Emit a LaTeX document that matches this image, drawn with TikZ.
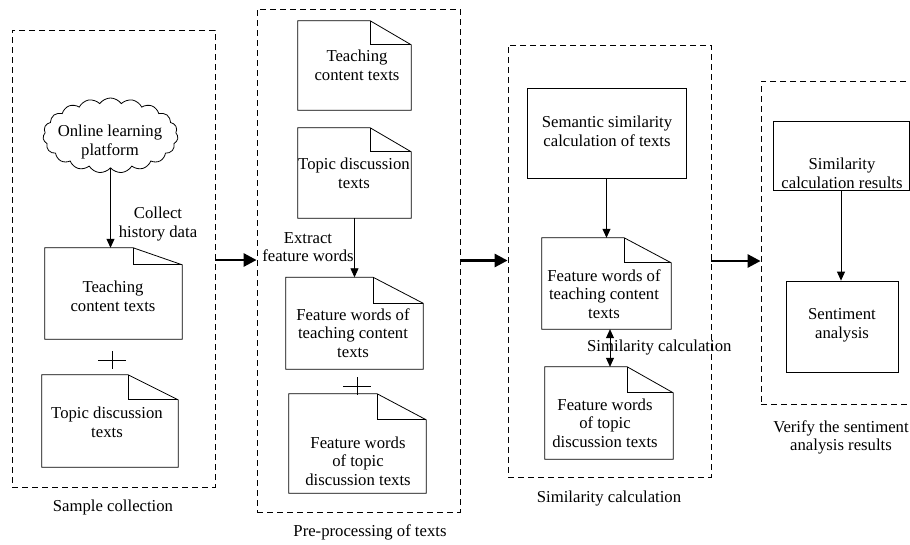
\documentclass[tikz,border=0pt]{standalone}
\usepackage{fontspec}
\setmainfont{Liberation Serif}
\usetikzlibrary{shapes.symbols,arrows.meta,calc}
\begin{document}
\begin{tikzpicture}[x=1pt,y=-1pt,
  txt/.style={font=\fontsize{16.7}{18.6}\selectfont, align=center, inner sep=0pt},
  stage/.style={draw, dash pattern=on 6pt off 4pt, line width=0.8pt, inner sep=0pt},
  docshape/.style 2 args={inner sep=0pt, minimum width=#1pt, minimum height=#2pt},
  boxnode/.style 2 args={draw, line width=0.8pt, inner sep=0pt, minimum width=#1pt, minimum height=#2pt},
  flow/.style={line width=0.8pt, -{Triangle[length=9pt,width=8pt]}},
  both/.style={line width=0.8pt, {Triangle[length=9pt,width=8pt]}-{Triangle[length=9pt,width=8pt]}},
  stagearrow/.style={line width=2.8pt, -{Triangle[length=13pt,width=13pt]}},
  docline/.style={line width=0.8pt, line join=miter}
]
\useasboundingbox (0,0) rectangle (910,544);
\clip (0,0) rectangle (910,544);
\fill[white] (0,0) rectangle (910,544);

% ---- stage frames ----
\node[stage, minimum width=203pt, minimum height=457pt] (b1) at (113.5,258.5) {};
\node[stage, minimum width=203pt, minimum height=503pt] (b2) at (358.5,260.5) {};
\node[stage, minimum width=203pt, minimum height=432pt] (b3) at (609.5,261) {};
\node[stage, minimum width=151pt, minimum height=323pt] (b4) at (836.5,242.5) {};

\node[txt] (l1) at (113,507) {Sample collection};
\node[txt] (l2) at (370,532) {Pre-processing of texts};
\node[txt] (l3) at (609,498) {Similarity calculation};
\node[txt] (l4) at (841,437.5) {Verify the sentiment\\analysis results};

% ---- stage 1 ----
\node[cloud, draw, line width=0.8pt, cloud puffs=19, cloud puff arc=110,
      cloud ignores aspect, minimum width=135pt, minimum height=75pt, inner sep=0pt]
      (cl) at (110.5,135.5) {};
\node[txt] (clt) at (110,142) {Online learning\\platform};

\node[docshape={137}{91}] (d1) at (113.5,293.5) {};
\node[txt] (d1t) at (113,296) {Teaching\\content texts};
\node[docshape={136}{92}] (d2) at (110,421) {};
\node[txt] (d2t) at (107,422) {Topic discussion\\texts};

% ---- stage 2 ----
\node[docshape={113}{89}] (dA) at (354.5,65.5) {};
\node[txt] (dAt) at (357,65) {Teaching\\content texts};
\node[docshape={113}{90}] (dB) at (354.5,173) {};
\node[txt] (dBt) at (354,173) {Topic discussion\\texts};
\node[docshape={137}{91.5}] (dC) at (354.5,323.25) {};
\node[txt] (dCt) at (353,333) {Feature words of\\teaching content\\texts};
\node[docshape={137}{99}] (dD) at (357.5,443.5) {};
\node[txt] (dDt) at (358,461) {Feature words\\of topic\\discussion texts};

% ---- stage 3 ----
\node[boxnode={159}{90}] (sem) at (606.5,133) {};
\node[txt] (semt) at (607,131) {Semantic similarity\\calculation of texts};
\node[docshape={129}{91}] (dE) at (606.5,283.5) {};
\node[txt] (dEt) at (604,294) {Feature words of\\teaching content\\texts};
\node[docshape={128}{92}] (dF) at (609,413) {};
\node[txt] (dFt) at (605,423) {Feature words\\of topic\\discussion texts};

% ---- stage 4 ----
\node[boxnode={136}{69}] (res) at (841,155.5) {};
\node[txt] (rest) at (842,173.5) {Similarity\\calculation results};
\node[boxnode={112}{91}] (sen) at (842,326.5) {};
\node[txt] (sent) at (842,325) {Sentiment\\analysis};

% ---- document outlines with folded corner ----
\foreach \dn/\fw/\fh in {d1/49/17, d2/50/25, dA/41/24, dB/41/24, dC/50/26,
                         dD/49/26, dE/47/25, dF/46/26} {
  \draw[docline] (\dn.north west) -- ([xshift=-\fw pt]\dn.north east)
        -- ([yshift=-\fh pt]\dn.north east) -- (\dn.south east)
        -- (\dn.south west) -- cycle;
  \draw[docline] ([xshift=-\fw pt]\dn.north east)
        -- ([xshift=-\fw pt, yshift=-\fh pt]\dn.north east)
        -- ([yshift=-\fh pt]\dn.north east);
}

% ---- plus signs ----
\coordinate (p1) at (112,360);
\coordinate (p2) at (357,386);
\foreach \p in {p1,p2}
  \draw[line width=0.8pt] ([xshift=-14pt]\p) -- ([xshift=14pt]\p)
                          ([yshift=9pt]\p) -- ([yshift=-9pt]\p);

% ---- connectors inside stages ----
\draw[flow] (cl.south) -- (cl.south |- d1.north);
\node[txt] (collect) at (158,224) {Collect\\history data};

\draw[flow] (dB.south) -- (dB.south |- dC.north);
\node[txt] (extract) at (308,247) {Extract\\feature words};

\draw[flow] (sem.south) -- (sem.south |- dE.north);
\draw[both] ([xshift=3.5pt]dE.south) -- ([xshift=3.5pt]dE.south |- dF.north);
\node[txt, anchor=west] (simcalc) at (587,348) {Similarity calculation};

\draw[flow] (res.south) -- (res.south |- sen.north);

% ---- connectors between stages ----
\draw[stagearrow] ([yshift=-1.5pt]b1.east) -- ([yshift=-1.5pt]b1.east -| b2.west);
\draw[stagearrow] (b2.east) -- (b2.east -| b3.west);
\draw[stagearrow] (b3.east) -- (b3.east -| b4.west);
\end{tikzpicture}
\end{document}
